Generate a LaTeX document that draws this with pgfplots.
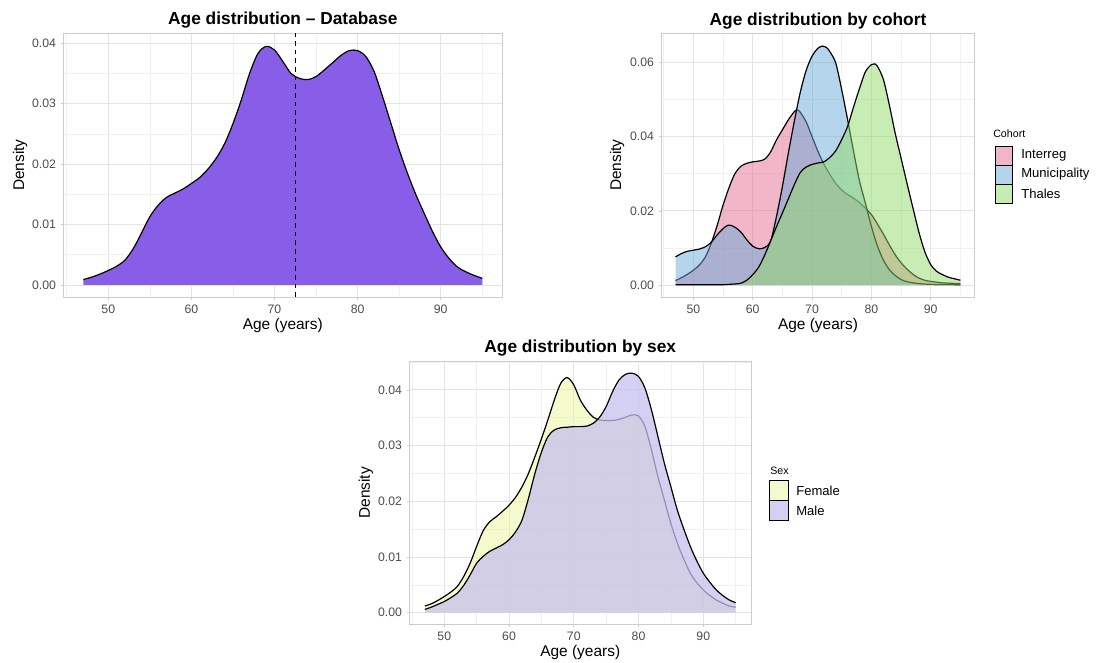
\documentclass[border=0pt]{standalone}
\usepackage{fontspec}
\setmainfont{Liberation Sans}
\usepackage{pgfplots}
\usepackage{pgfplotstable}
\pgfplotsset{compat=1.18}

% ---------- colours ----------
\definecolor{panelborder}{RGB}{205,205,205}
\definecolor{gridmajor}{RGB}{228,228,228}
\definecolor{gridminor}{RGB}{241,241,241}
\definecolor{ticktext}{RGB}{77,77,77}
\definecolor{dbfill}{RGB}{136,94,232}
\definecolor{interreg}{RGB}{227,109,145}
\definecolor{municip}{RGB}{105,171,217}
\definecolor{thales}{RGB}{145,219,105}
\definecolor{female}{RGB}{235,245,155}
\definecolor{male}{RGB}{198,192,238}

% ---------- kernel density estimates (age in years, density) ----------
\pgfplotstableread{
age dens
47 0.0009
48 0.0013
49 0.0018
50 0.0024
51 0.0031
52 0.0041
53 0.0060
54 0.0086
55 0.0113
56 0.0132
57 0.0145
58 0.0152
59 0.0159
60 0.0168
61 0.0178
62 0.0192
63 0.0210
64 0.0234
65 0.0267
66 0.0306
67 0.0350
68 0.0383
69 0.0395
70 0.0389
71 0.0370
72 0.0350
73 0.0342
74 0.0340
75 0.0345
76 0.0356
77 0.0368
78 0.0380
79 0.0388
80 0.0388
81 0.0378
82 0.0353
83 0.0312
84 0.0268
85 0.0224
86 0.0185
87 0.0150
88 0.0119
89 0.0089
90 0.0063
91 0.0044
92 0.0030
93 0.0022
94 0.0016
95 0.0011
}\dbdens

\pgfplotstableread{
age dens
47 0.0012
48 0.0020
49 0.0029
50 0.0040
51 0.0054
52 0.0075
53 0.0112
54 0.0160
55 0.0215
56 0.0262
57 0.0300
58 0.0320
59 0.0328
60 0.0332
61 0.0334
62 0.0339
63 0.0358
64 0.0391
65 0.0418
66 0.0445
67 0.0467
67.5 0.0472
68 0.0466
69 0.0440
70 0.0400
71 0.0360
72 0.0326
73 0.0298
74 0.0274
75 0.0256
76 0.0244
77 0.0234
78 0.0222
79 0.0207
80 0.0190
81 0.0165
82 0.0138
83 0.0109
84 0.0082
85 0.0060
86 0.0043
87 0.0029
88 0.0019
89 0.0013
90 0.0010
92 0.0006
95 0.0004
}\interregdens

\pgfplotstableread{
age dens
47 0.0076
48 0.0085
49 0.0091
50 0.0094
51 0.0097
52 0.0103
53 0.0115
54 0.0135
55 0.0152
55.8 0.0161
56.5 0.0160
57 0.0156
58 0.0143
59 0.0122
60 0.0105
61 0.0098
62 0.0101
63 0.0118
64 0.0184
65 0.0265
66 0.0355
67 0.0440
68 0.0518
69 0.0578
70 0.0617
71 0.0638
71.8 0.0644
72.5 0.0639
73 0.0629
74 0.0598
75 0.0526
76 0.0445
77 0.0360
78 0.0280
79 0.0220
80 0.0158
81 0.0106
82 0.0068
83 0.0042
84 0.0026
85 0.0015
86 0.0009
88 0.0004
90 0.0002
95 0.0001
}\municipdens

\pgfplotstableread{
age dens
47 0.0001
50 0.0001
53 0.0001
55 0.0001
56 0.0002
57 0.0003
58 0.0005
59 0.0013
60 0.0028
61 0.0048
62 0.0080
63 0.0118
64 0.0157
65 0.0194
66 0.0232
67 0.0270
68 0.0303
69 0.0318
70 0.0325
71 0.0329
72 0.0332
73 0.0344
74 0.0362
75 0.0392
76 0.0428
77 0.0480
78 0.0530
79 0.0575
80 0.0594
80.5 0.0596
81 0.0590
82 0.0555
83 0.0487
84 0.0410
85 0.0342
86 0.0274
87 0.0208
88 0.0143
89 0.0090
90 0.0055
91 0.0037
92 0.0028
93 0.0021
94 0.0017
95 0.0013
}\thalesdens

\pgfplotstableread{
age dens
47 0.0012
48 0.0016
49 0.0022
50 0.0029
51 0.0037
52 0.0047
53 0.0065
54 0.0089
55 0.0119
56 0.0147
57 0.0163
58 0.0172
59 0.0182
60 0.0193
61 0.0207
62 0.0226
63 0.0250
64 0.0280
65 0.0312
66 0.0346
67 0.0382
68 0.0412
69 0.0422
70 0.0409
71 0.0382
72 0.0364
73 0.0351
74 0.0346
75 0.0345
76 0.0345
77 0.0347
78 0.0351
79 0.0355
80 0.0353
81 0.0334
82 0.0292
83 0.0244
84 0.0202
85 0.0160
86 0.0125
87 0.0096
88 0.0071
89 0.0054
90 0.0041
91 0.0031
92 0.0023
93 0.0017
94 0.0012
95 0.0010
}\femaledens

\pgfplotstableread{
age dens
47 0.0006
48 0.0010
49 0.0015
50 0.0020
51 0.0027
52 0.0035
53 0.0049
54 0.0068
55 0.0089
56 0.0101
57 0.0110
58 0.0116
59 0.0122
60 0.0131
61 0.0145
62 0.0166
63 0.0205
64 0.0250
65 0.0288
66 0.0316
67 0.0328
68 0.0332
69 0.0333
70 0.0334
71 0.0334
72 0.0335
73 0.0340
74 0.0351
75 0.0370
76 0.0397
77 0.0418
78 0.0428
79 0.0430
80 0.0424
81 0.0403
82 0.0364
83 0.0316
84 0.0268
85 0.0226
86 0.0184
87 0.0150
88 0.0119
89 0.0093
90 0.0071
91 0.0055
92 0.0041
93 0.0031
94 0.0023
95 0.0018
}\maledens

\pgfplotsset{
  ggpanel/.style={
    scale only axis,
    axis line style={draw=panelborder, line width=0.5pt},
    tick pos=left,
    tick align=outside,
    major tick length=2pt,
    minor tick length=0pt,
    tick style={draw=panelborder, line width=0.5pt},
    grid=both,
    major grid style={draw=gridmajor, line width=0.6pt},
    minor grid style={draw=gridminor, line width=0.45pt},
    xmin=44.6, xmax=97.4,
    xtick={50,60,70,80,90},
    minor xtick={45,55,65,75,85,95},
    scaled y ticks=false,
    /pgf/number format/assume math mode=true,
    tick label style={font=\fontsize{9.2}{11}\selectfont, text=ticktext},
    yticklabel style={/pgf/number format/.cd, fixed, fixed zerofill, precision=2},
    xlabel={Age (years)},
    ylabel={Density},
    label style={font=\fontsize{11.6}{13}\selectfont, text=black},
    title style={font=\bfseries\fontsize{13}{15}\selectfont, anchor=base},
  },
  densfill/.style={draw=none, fill=#1, fill opacity=0.5},
  densline/.style={black, line width=0.9pt, smooth},
}

\begin{document}
\begin{tikzpicture}
\useasboundingbox (0,0) rectangle (825pt,496.5pt);

% ---------------- overall distribution ----------------
\begin{axis}[ggpanel,
  at={(47.55pt,273.7pt)}, anchor=south west,
  width=329.1pt, height=198pt,
  ymin=-0.002, ymax=0.0417,
  ytick={0,0.01,0.02,0.03,0.04},
  minor ytick={0.005,0.015,0.025,0.035},
  title={Age distribution -- Database},
  title style={at={(axis description cs:0.5,1.0017)}},
  xlabel style={at={(axis description cs:0.5,-0.1227)}, anchor=base},
  ylabel style={at={(axis description cs:-0.0896,0.5)}, anchor=base},
]
\addplot[densfill=dbfill, fill opacity=1, smooth] table[x=age, y=dens] {\dbdens} \closedcycle;
\addplot[densline] table[x=age, y=dens] {\dbdens};
% mean age
\addplot[black, line width=0.6pt, dash pattern=on 3.5pt off 3pt] coordinates {(72.46,-0.002) (72.46,0.0417)};
\end{axis}

% ---------------- by cohort ----------------
\begin{axis}[ggpanel,
  at={(495.98pt,273.7pt)}, anchor=south west,
  width=235pt, height=198pt,
  ymin=-0.00323, ymax=0.0679,
  ytick={0,0.02,0.04,0.06},
  minor ytick={0.01,0.03,0.05},
  title={Age distribution by cohort},
  title style={at={(axis description cs:0.5,0.9977)}},
  xlabel style={at={(axis description cs:0.5,-0.1227)}, anchor=base},
  ylabel style={at={(axis description cs:-0.1285,0.5)}, anchor=base},
]
\addplot[densfill=interreg, smooth] table[x=age, y=dens] {\interregdens} \closedcycle;
\addplot[densline] table[x=age, y=dens] {\interregdens};
\addplot[densfill=municip, smooth] table[x=age, y=dens] {\municipdens} \closedcycle;
\addplot[densline] table[x=age, y=dens] {\municipdens};
\addplot[densfill=thales, smooth] table[x=age, y=dens] {\thalesdens} \closedcycle;
\addplot[densline] table[x=age, y=dens] {\thalesdens};
\end{axis}

% ---------------- by sex ----------------
\begin{axis}[ggpanel,
  at={(306.98pt,27.98pt)}, anchor=south west,
  width=256.4pt, height=197.85pt,
  ymin=-0.00215, ymax=0.0452,
  ytick={0,0.01,0.02,0.03,0.04},
  minor ytick={0.005,0.015,0.025,0.035,0.045},
  title={Age distribution by sex},
  title style={at={(axis description cs:0.5,1.0017)}},
  xlabel style={at={(axis description cs:0.5,-0.12)}, anchor=base},
  ylabel style={at={(axis description cs:-0.115,0.5)}, anchor=base},
]
\addplot[densfill=female, smooth] table[x=age, y=dens] {\femaledens} \closedcycle;
\addplot[densline] table[x=age, y=dens] {\femaledens};
\addplot[densfill=male, fill opacity=0.75, smooth] table[x=age, y=dens] {\maledens} \closedcycle;
\addplot[densline] table[x=age, y=dens] {\maledens};
\end{axis}

% ---------------- legends ----------------
\begin{scope}[font=\fontsize{9.8}{11}\selectfont]
  \node[anchor=west, inner sep=0pt, font=\fontsize{8}{9}\selectfont] at (744.75pt,396.5pt) {Cohort};
  \fill[white] (746.25pt,344.25pt) rectangle (759.5pt,387pt);
  \filldraw[fill=interreg, fill opacity=0.5, draw=black, line width=0.6pt] (746.25pt,372.75pt) rectangle (759.5pt,387pt);
  \filldraw[fill=municip, fill opacity=0.5, draw=black, line width=0.6pt] (746.25pt,358.5pt) rectangle (759.5pt,372.75pt);
  \filldraw[fill=thales, fill opacity=0.5, draw=black, line width=0.6pt] (746.25pt,344.25pt) rectangle (759.5pt,358.5pt);
  \node[anchor=west, inner sep=0pt] at (765.75pt,379.9pt) {Interreg};
  \node[anchor=west, inner sep=0pt] at (765.75pt,365.6pt) {Municipality};
  \node[anchor=west, inner sep=0pt] at (765.75pt,351.4pt) {Thales};

  \node[anchor=west, inner sep=0pt, font=\fontsize{8}{9}\selectfont] at (577.5pt,143.5pt) {Sex};
  \filldraw[fill=female, fill opacity=0.5, draw=black, line width=0.6pt] (577pt,121pt) rectangle (591.2pt,136pt);
  \filldraw[fill=male, fill opacity=0.75, draw=black, line width=0.6pt] (577pt,106pt) rectangle (591.2pt,121pt);
  \node[anchor=west, inner sep=0pt] at (597pt,128.5pt) {Female};
  \node[anchor=west, inner sep=0pt] at (597pt,113.5pt) {Male};
\end{scope}
\end{tikzpicture}
\end{document}
